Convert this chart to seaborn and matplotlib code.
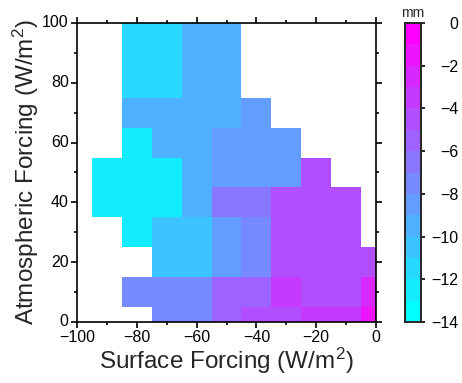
import numpy as np
import pandas as pd
import matplotlib
matplotlib.use("Agg")
import matplotlib.pyplot as plt
from matplotlib.colors import ListedColormap
from matplotlib.ticker import FixedLocator
import seaborn as sns

# ---- data ----
surface_forcing = [-90, -80, -70, -60, -50, -40, -30, -20, -10, 0]
atmos_forcing = [0, 10, 20, 30, 40, 50, 60, 70, 80, 90, 100]
nan = np.nan
# rows from bottom (y=0) to top (y=100); columns follow surface_forcing
rain_change = [
    [nan, nan, -7.5, -7.5, -5.5, -4.5, -4.5, -3.5, -3.5, -1.5],
    [nan, -7.5, -7.5, -7.5, -5.5, -5.5, -3.5, -4.5, -4.5, -2.5],
    [nan, nan, -10.5, -10.5, -8.5, -7.5, -4.5, -4.5, -4.5, -4.5],
    [nan, -12.5, -10.5, -10.5, -8.5, -7.5, -4.5, -4.5, -4.5, nan],
    [-12.5, -12.5, -12.5, -9.5, -6.5, -6.5, -4.5, -4.5, -4.5, nan],
    [-12.5, -12.5, -12.5, -9.5, -8.5, -8.5, -8.5, -4.5, nan, nan],
    [nan, -12.5, -9.5, -9.5, -8.5, -8.5, -8.5, nan, nan, nan],
    [nan, -9.5, -9.5, -9.5, -9.5, -8.5, nan, nan, nan, nan],
    [nan, -11.5, -11.5, -9.5, -9.5, nan, nan, nan, nan, nan],
    [nan, -11.5, -11.5, -9.5, -9.5, nan, nan, nan, nan, nan],
    [nan, -11.5, -11.5, -9.5, -9.5, nan, nan, nan, nan, nan],
]
x_ticks = [-100, -80, -60, -40, -20, 0]
y_ticks = [0, 20, 40, 60, 80, 100]
cbar_ticks = [-14, -12, -10, -8, -6, -4, -2, 0]
vmin, vmax, nlev = -14, 0, 14

sns.set_style("ticks")
plt.rcParams["font.family"] = ["Liberation Sans", "DejaVu Sans"]
plt.rcParams["mathtext.fontset"] = "custom"
plt.rcParams["mathtext.rm"] = "Liberation Sans"
plt.rcParams["mathtext.it"] = "Liberation Sans:italic"

df = pd.DataFrame(rain_change, index=atmos_forcing, columns=surface_forcing)
cmap = ListedColormap(plt.get_cmap("cool")(np.linspace(0, 1, nlev)))

W, H = 462, 383
fig = plt.figure(figsize=(W / 100, H / 100), dpi=100)
ax = fig.add_axes([77 / W, 61 / H, 299 / W, 299 / H])
cax = fig.add_axes([405 / W, 61 / H, 16 / W, 299 / H])

sns.heatmap(df, ax=ax, cbar_ax=cax, cmap=cmap, vmin=vmin, vmax=vmax,
            cbar_kws={"ticks": cbar_ticks})

def xpos(v):
    return (v - surface_forcing[0]) / 10 + 0.5

def ypos(v):
    return (v - atmos_forcing[0]) / 10 + 0.5

ax.set_xlim(xpos(-100), xpos(0))
ax.set_ylim(ypos(0), ypos(100))
ax.set_xticks([xpos(v) for v in x_ticks])
ax.set_xticklabels([str(v).replace("-", "\u2212") for v in x_ticks], rotation=0)
ax.set_yticks([ypos(v) for v in y_ticks])
ax.set_yticklabels([str(v) for v in y_ticks], rotation=0)
ax.xaxis.set_minor_locator(FixedLocator([xpos(v) for v in range(-100, 1, 10)]))
ax.yaxis.set_minor_locator(FixedLocator([ypos(v) for v in range(0, 101, 10)]))
for s in ax.spines.values():
    s.set_visible(True)
    s.set_linewidth(1.2)
    s.set_color("black")
ax.tick_params(which="both", direction="out", top=True, right=True,
               labeltop=False, labelright=False, width=1.2, color="black",
               labelsize=11.5, labelcolor="black")
ax.tick_params(which="major", length=4, pad=2)
ax.tick_params(which="minor", length=2.5)
ax.set_xlabel("Surface Forcing (W/m$^2$)", fontsize=17.5, labelpad=0)
ax.set_ylabel("Atmospheric Forcing (W/m$^2$)", fontsize=17.5, labelpad=1)

cax.tick_params(direction="out", length=3, width=1.2, pad=24, labelsize=11.5,
                color="black", labelcolor="black")
cax.set_yticklabels([str(v).replace("-", "\u2212") for v in cbar_ticks])
for lab in cax.get_yticklabels():
    lab.set_ha("right")
for s in cax.spines.values():
    s.set_visible(True)
    s.set_linewidth(1.2)
cax.set_title("mm", fontsize=10, pad=4)

fig.savefig("out.png", dpi=100, facecolor="white")
